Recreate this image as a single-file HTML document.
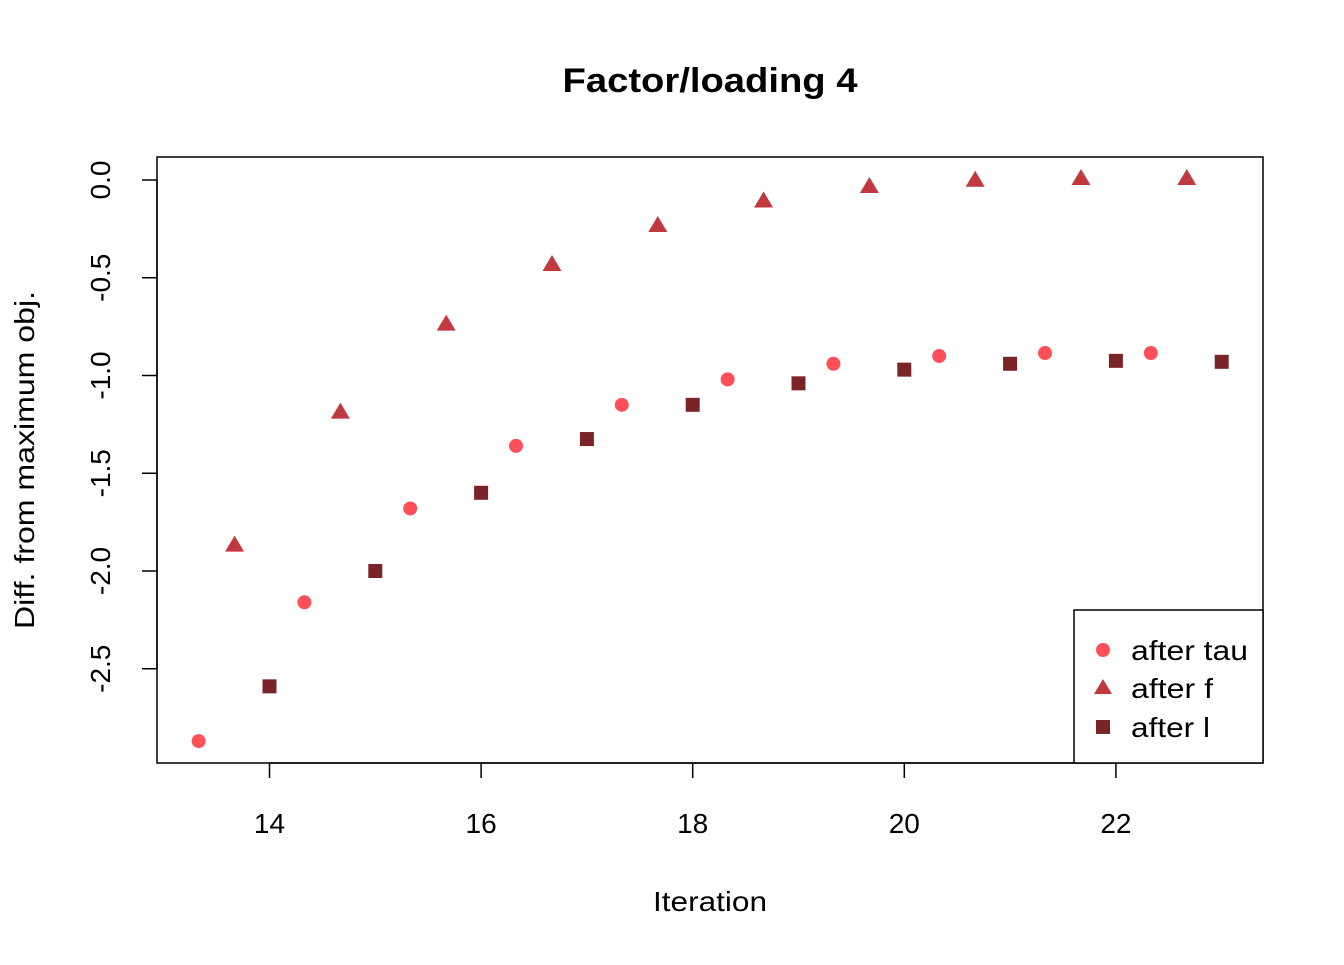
<!DOCTYPE html>
<html><head><meta charset="utf-8"><style>
body{margin:0;background:#fff;}
svg text{font-family:"Liberation Sans",Arial,sans-serif;}
</style></head><body>
<svg id="chart" width="1344" height="960" xmlns="http://www.w3.org/2000/svg">
<text x="710" y="92" font-size="34" font-weight="bold" text-anchor="middle" textLength="295" lengthAdjust="spacingAndGlyphs">Factor/loading 4</text>
<rect x="157" y="157" width="1106" height="606" fill="none" stroke="#000" stroke-width="1.5"/>
<g id="xaxis"></g>
<g id="yaxis"></g>
<text x="710" y="911" font-size="28" text-anchor="middle" textLength="114" lengthAdjust="spacingAndGlyphs">Iteration</text>
<text transform="translate(34,460) rotate(-90)" font-size="28" text-anchor="middle" textLength="338" lengthAdjust="spacingAndGlyphs">Diff. from maximum obj.</text>
<g id="marks"></g>
<g>
<rect x="1074" y="610" width="189" height="153" fill="#fff" stroke="#000" stroke-width="1.5"/>
<circle cx="1103" cy="650" r="7" fill="#FF4F58"/>
<text x="1131" y="660" font-size="28" textLength="117" lengthAdjust="spacingAndGlyphs">after tau</text>
<polygon points="1103,679 1112,694 1094,694" fill="#C0393F"/>
<text x="1131" y="698" font-size="28" textLength="82" lengthAdjust="spacingAndGlyphs">after f</text>
<rect x="1096" y="720" width="14" height="14" fill="#7A2428"/>
<text x="1131" y="737" font-size="28" textLength="79" lengthAdjust="spacingAndGlyphs">after l</text>
</g>
</svg>
<script>
const xTicks=[14,16,18,20,22];
const yTicks=[0,-0.5,-1,-1.5,-2,-2.5];
const yTickLabels=["0.0","-0.5","-1.0","-1.5","-2.0","-2.5"];
const tauX=[13.33,14.33,15.33,16.33,17.33,18.33,19.33,20.33,21.33,22.33];
const tauY=[-2.87,-2.16,-1.68,-1.36,-1.15,-1.02,-0.94,-0.90,-0.885,-0.885];
const fX=[13.67,14.67,15.67,16.67,17.67,18.67,19.67,20.67,21.67,22.67];
const fY=[-1.87,-1.19,-0.74,-0.435,-0.235,-0.11,-0.036,-0.004,0.005,0.005];
const lX=[14,15,16,17,18,19,20,21,22,23];
const lY=[-2.59,-2.0,-1.6,-1.325,-1.15,-1.04,-0.97,-0.94,-0.925,-0.93];
const NS="http://www.w3.org/2000/svg";
function sx(v){return 269.5+(v-14)*105.8;}
function sy(v){return 180-v*195.5;}
function mk(tag,attrs,parent){const e=document.createElementNS(NS,tag);for(const k in attrs)e.setAttribute(k,attrs[k]);parent.appendChild(e);return e;}
const xa=document.getElementById('xaxis'),ya=document.getElementById('yaxis'),m=document.getElementById('marks');
mk('line',{x1:sx(xTicks[0]),x2:sx(xTicks[xTicks.length-1]),y1:763,y2:763,stroke:'#000','stroke-width':1.5},xa);
xTicks.forEach(t=>{
 const l=mk('line',{x1:sx(t),x2:sx(t),y1:763,y2:778,stroke:'#000','stroke-width':1.5},xa);
 
 
 const tx=mk('text',{x:sx(t),y:833,'font-size':28,'text-anchor':'middle'},xa);tx.textContent=t;
 
 
});
mk('line',{x1:157,x2:157,y1:sy(yTicks[0]),y2:sy(yTicks[yTicks.length-1]),stroke:'#000','stroke-width':1.5},ya);
yTicks.forEach((t,i)=>{
 const l=mk('line',{x1:142,x2:157,y1:sy(t),y2:sy(t),stroke:'#000','stroke-width':1.5},ya);
 
 
 const tx=mk('text',{transform:`translate(110,${sy(t)}) rotate(-90)`,'font-size':28,'text-anchor':'middle'},ya);tx.textContent=yTickLabels[i];
 
 
});
tauX.forEach((x,i)=>{
 const c=mk('circle',{cx:sx(x),cy:sy(tauY[i]),r:7,fill:'#FF4F58'},m);
 
 
});
fX.forEach((x,i)=>{
 const X=sx(x),Y=sy(fY[i]);
 const p=mk('polygon',{points:`${X},${Y-10} ${X+9.5},${Y+6} ${X-9.5},${Y+6}`,fill:'#C0393F'},m);
 
 
});
lX.forEach((x,i)=>{
 const r=mk('rect',{x:sx(x)-7,y:sy(lY[i])-7,width:14,height:14,fill:'#7A2428'},m);
 
 
});
</script>
</body></html>
